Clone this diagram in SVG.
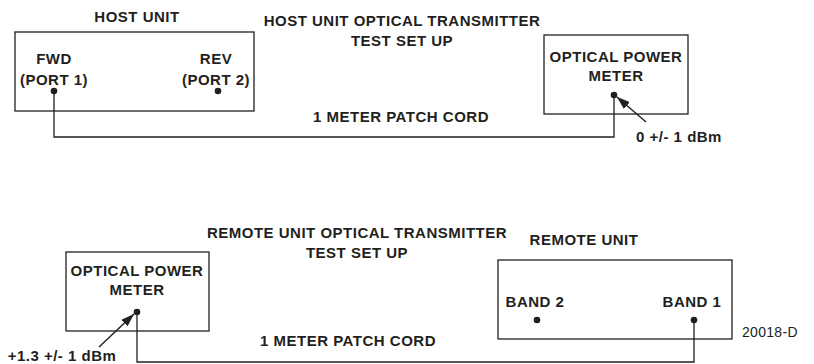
<svg xmlns="http://www.w3.org/2000/svg" width="814" height="364" viewBox="0 0 814 364">
<defs>
<style>
.t{font-family:"Liberation Sans",Arial,Helvetica,sans-serif;font-weight:bold;font-size:15px;letter-spacing:0.5px;fill:#231f20;text-anchor:middle}
.r{font-family:"Liberation Sans",Arial,Helvetica,sans-serif;font-size:14px;letter-spacing:0.3px;fill:#231f20}
.box{fill:none;stroke:#231f20;stroke-width:1.3}
.cord{fill:none;stroke:#231f20;stroke-width:1.3}
.dot{fill:#231f20}
.ptr{stroke:#231f20;stroke-width:1.4;fill:none}
</style>
<marker id="ah" viewBox="0 0 13 9" refX="13" refY="4.5" markerWidth="13" markerHeight="9" markerUnits="userSpaceOnUse" orient="auto">
<path d="M0,0 L13,4.5 L0,9 Z" fill="#231f20"/>
</marker>
</defs>
<rect width="814" height="364" fill="#fff"/>

<text class="t" x="402" y="26">HOST UNIT OPTICAL TRANSMITTER</text>
<text class="t" x="402" y="46">TEST SET UP</text>
<text class="t" x="401" y="122">1 METER PATCH CORD</text>

<text class="t" x="357" y="238">REMOTE UNIT OPTICAL TRANSMITTER</text>
<text class="t" x="357" y="258">TEST SET UP</text>
<text class="t" x="348" y="346">1 METER PATCH CORD</text>

<text class="r" x="742" y="337">20018-D</text>

<g id="host-unit">
<text class="t" x="137" y="22">HOST UNIT</text>
<rect class="box" x="15" y="32" width="239" height="79"/>
<text class="t" x="54" y="64">FWD</text>
<text class="t" x="54" y="85">(PORT 1)</text>
<text class="t" x="216" y="64">REV</text>
<text class="t" x="216" y="85">(PORT 2)</text>
<circle class="dot" cx="54" cy="91" r="3.3"/>
<circle class="dot" cx="218" cy="91" r="3.3"/>
</g>

<g id="meter-top">
<rect class="box" x="544" y="35" width="144" height="79"/>
<text class="t" x="616" y="62">OPTICAL POWER</text>
<text class="t" x="616" y="81">METER</text>
<circle class="dot" cx="614" cy="95" r="3.3"/>
</g>
<g id="label-top">
<text class="t" x="679" y="142">0 +/- 1 dBm</text>
</g>

<g id="meter-bottom">
<rect class="box" x="66" y="252" width="143" height="79"/>
<text class="t" x="137" y="276">OPTICAL POWER</text>
<text class="t" x="137" y="295">METER</text>
<circle class="dot" cx="137" cy="312" r="3.3"/>
</g>
<g id="label-bottom">
<text class="t" x="62" y="361">+1.3 +/- 1 dBm</text>
</g>

<g id="remote-unit">
<text class="t" x="584" y="245">REMOTE UNIT</text>
<rect class="box" x="498" y="260" width="234" height="79"/>
<text class="t" x="535" y="307">BAND 2</text>
<text class="t" x="692" y="307">BAND 1</text>
<circle class="dot" cx="537" cy="320" r="3.3"/>
<circle class="dot" cx="694" cy="320" r="3.3"/>
</g>

<g id="connectors">
<path class="cord" d="M54,91 V137 H614 V95"/>
<path class="cord" d="M137,312 V362 H694 V320"/>
<line class="ptr" x1="646" y1="122" x2="617" y2="97" marker-end="url(#ah)"/>
<line class="ptr" x1="99" y1="347" x2="134" y2="314" marker-end="url(#ah)"/>
</g>
</svg>
